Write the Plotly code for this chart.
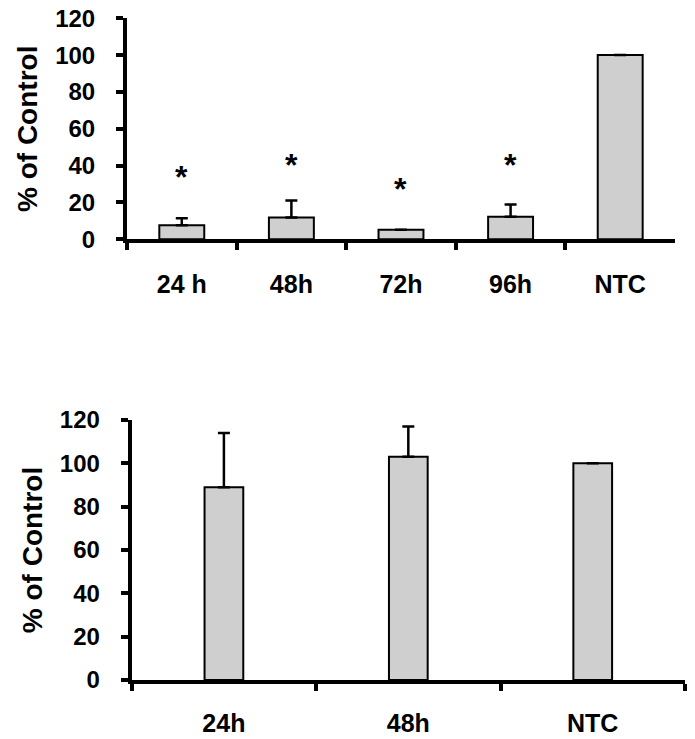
import plotly.graph_objects as go

# Top panel data
top_cats = ["24 h", "48h", "72h", "96h", "NTC"]
top_vals = [7.6, 11.8, 5.2, 12.2, 100]
top_errs = [3.8, 9.3, 0, 6.7, 0]
top_star_y = [37, 43.5, 30.5, 43.5, None]

# Bottom panel data
bot_cats = ["24h", "48h", "NTC"]
bot_vals = [89, 103, 100]
bot_errs = [25, 14, 0]

y_ticks = [0, 20, 40, 60, 80, 100, 120]

FONT = "Liberation Sans, Arial, sans-serif"
FILL = "#cfcfcf"

fig = go.Figure()

fig.add_trace(go.Bar(
    x=top_cats, y=top_vals, xaxis="x", yaxis="y", width=0.41,
    marker=dict(color=FILL, line=dict(color="black", width=2)),
    error_y=dict(type="data", symmetric=False, array=top_errs,
                 arrayminus=[0] * len(top_errs), color="black", thickness=2.5, width=6),
    showlegend=False,
))
fig.add_trace(go.Bar(
    x=bot_cats, y=bot_vals, xaxis="x2", yaxis="y2", width=0.21,
    marker=dict(color=FILL, line=dict(color="black", width=2)),
    error_y=dict(type="data", symmetric=False, array=bot_errs,
                 arrayminus=[0] * len(bot_errs), color="black", thickness=2.5, width=6),
    showlegend=False,
))

annotations = []
for c, sy in zip(top_cats, top_star_y):
    if sy is None:
        continue
    annotations.append(dict(x=c, y=sy, xref="x", yref="y", text="<b>*</b>", showarrow=False,
                            font=dict(family=FONT, size=32, color="black"),
                            yanchor="middle", yshift=-6))

axis_common = dict(showline=True, linecolor="black", linewidth=4, showgrid=False,
                   zeroline=False, ticks="outside", tickcolor="black", tickwidth=4,
                   ticklen=7, automargin=False, ticklabeloverflow="allow")

fig.update_layout(
    width=695, height=739,
    margin=dict(l=0, r=0, t=0, b=0),
    paper_bgcolor="white", plot_bgcolor="white",
    font=dict(family=FONT, color="black"),
    annotations=annotations,
    xaxis=dict(domain=[0.1712, 0.9597], anchor="y", type="category",
               range=[-0.5, 4.5], tickson="boundaries",
               tickfont=dict(family=FONT, size=25, color="black", weight="bold"),
               ticklabelstandoff=20, **axis_common),
    yaxis=dict(domain=[0.687, 0.9861], anchor="x", range=[0, 120],
               tickvals=y_ticks,
               tickfont=dict(family=FONT, size=24, color="black", weight="bold"),
               ticklabelstandoff=16,
               title=dict(text="% of Control", standoff=10,
                          font=dict(family=FONT, size=28, color="black", weight="bold")),
               **axis_common),
    xaxis2=dict(domain=[0.178, 0.974], anchor="y2", type="category",
                range=[-0.5, 2.5], tickson="boundaries",
                tickfont=dict(family=FONT, size=25, color="black", weight="bold"),
                ticklabelstandoff=18, **axis_common),
    yaxis2=dict(domain=[0.0907, 0.4425], anchor="x2", range=[0, 120],
                tickvals=y_ticks,
                tickfont=dict(family=FONT, size=24, color="black", weight="bold"),
                ticklabelstandoff=16,
                title=dict(text="% of Control", standoff=10,
                           font=dict(family=FONT, size=28, color="black", weight="bold")),
                **axis_common),
)

fig.write_html("out.html")
